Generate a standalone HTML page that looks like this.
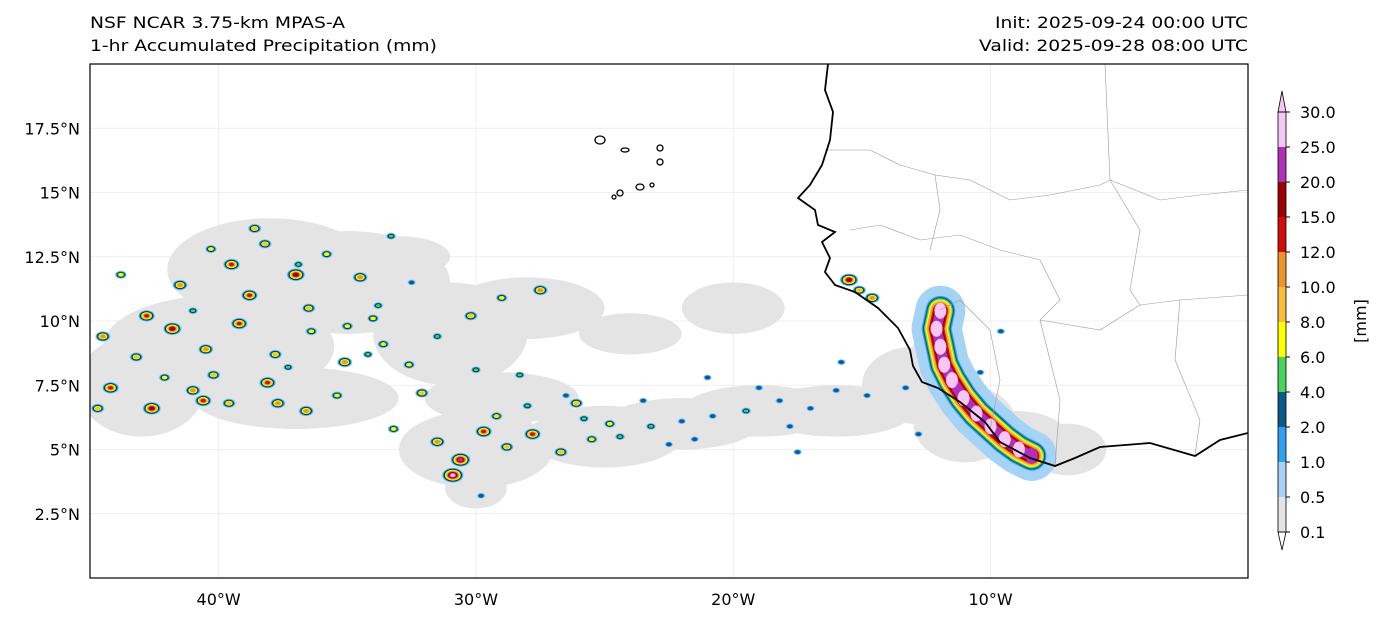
<!DOCTYPE html>
<html><head><meta charset="utf-8">
<style>
body{margin:0;background:#fff;width:1384px;height:623px;overflow:hidden;font-family:"Liberation Sans","DejaVu Sans",sans-serif;}
svg text{font-family:"DejaVu Sans","Liberation Sans",sans-serif;font-size:16px;fill:#000;}
</style></head><body>
<svg id="chart" width="1384" height="623" viewBox="0 0 1384 623" xmlns="http://www.w3.org/2000/svg">
<text x="90" y="28" textLength="255" lengthAdjust="spacingAndGlyphs">NSF NCAR 3.75-km MPAS-A</text>
<text x="90" y="51" textLength="347" lengthAdjust="spacingAndGlyphs">1-hr Accumulated Precipitation (mm)</text>
<text x="995" y="28" textLength="253" lengthAdjust="spacingAndGlyphs">Init: 2025-09-24 00:00 UTC</text>
<text x="979" y="51" textLength="269" lengthAdjust="spacingAndGlyphs">Valid: 2025-09-28 08:00 UTC</text>
<defs><clipPath id="clip"><rect x="90" y="64" width="1158" height="514"/></clipPath></defs>
<g id="map" clip-path="url(#clip)"></g>
<rect x="90" y="64" width="1158" height="514" fill="none" stroke="#000" stroke-width="1.2"/>
<g id="axes"></g>
<g id="cbar"></g>
<text transform="translate(1366,321) rotate(-90)" text-anchor="middle">[mm]</text>
</svg>
<script>
const lonTicks=[-40,-30,-20,-10];
const latTicks=[2.5,5,7.5,10,12.5,15,17.5];
const levels=[0.1,0.5,1,2,4,6,8,10,12,15,20,25,30];
const colors=["#e4e4e4","#a5d3f6","#2f9ff0","#0a5a8a","#4ad35a","#ffff00","#f8bd3a","#ee922c","#d00c0c","#9c0000","#b030b8","#f8c6f6"];
const grayLon=[-38,-35,-40,-43,-31,-28,-25,-22,-19,-16,-13,-11,-9,-7,-37,-30,-33,-29,-24,-20,-12,-30];
const grayLat=[12,11.5,9,7.5,9.5,10.5,5.5,6,6.5,6.5,7.5,6,5.5,5,7,5,12.5,7,9.5,10.5,9,3.5];
const grayRx=[4,4,4.5,2.5,3,3,3,3,3,3,2,2,2,1.5,4,3,2,3,2,2,1,1.2];
const grayRy=[2,2,2,2,2,1.2,1.2,1,1,1,1.5,1.5,1,1,1.2,1.5,0.8,1,0.8,1,1,0.8];
const cellLon=[-39.5,-38.2,-37,-35.8,-34.5,-33.3,-36.5,-38.8,-40.3,-41.5,-35,-33.8,-31.5,-30.2,-29,-27.5,-42.8,-44.5,-43.2,-41.8,-40.5,-39.2,-37.8,-36.4,-35.1,-33.6,-44.2,-42.6,-41,-39.6,-38.1,-36.6,-35.4,-37.3,-40.2,-42.1,-31.5,-30.6,-29.7,-28.8,-27.8,-26.7,-25.5,-24.4,-30.9,-29.2,-32.1,-23.2,-22,-20.8,-19.5,-18.2,-17,-16,-14.8,-25.8,-21.5,-19,-17.8,-15.5,-15.1,-14.6,-32.6,-34.2,-28.3,-26.1,-43.8,-41,-38.6,-36.9,-34,-32.5,-30,-28,-26.5,-24.8,-23.5,-22.5,-21,-17.5,-15.8,-13.3,-12.8,-10.4,-9.6,-44.7,-40.6,-37.7,-33.2,-29.8];
const cellLat=[12.2,13,11.8,12.6,11.7,13.3,10.5,11,12.8,11.4,9.8,10.6,9.4,10.2,10.9,11.2,10.2,9.4,8.6,9.7,8.9,9.9,8.7,9.6,8.4,9.1,7.4,6.6,7.3,6.8,7.6,6.5,7.1,8.2,7.9,7.8,5.3,4.6,5.7,5.1,5.6,4.9,5.4,5.5,4.0,6.3,7.2,5.9,6.1,6.3,6.5,6.9,6.6,7.3,7.1,6.2,5.4,7.4,5.9,11.6,11.2,10.9,8.3,8.7,7.9,6.8,11.8,10.4,13.6,12.2,10.1,11.5,8.1,6.7,7.1,6.0,6.9,5.2,7.8,4.9,8.4,7.4,5.6,8.0,9.6,6.6,6.9,6.8,5.8,3.2];
const cellVal=[12,8,15,6,10,5,8,12,6,10,6,4,5,8,6,10,12,10,8,15,10,12,8,6,10,6,12,15,10,8,12,10,6,5,8,6,10,20,12,8,12,8,6,4,25,6,8,4,3,3,4,2,3,2,3,4,2,3,2,15,8,10,6,5,4,8,6,5,8,4,6,3,5,4,3,6,2,2,3,2,3,2,3,3,2,8,12,10,6,3];
// coastal heavy rain band (lon, lat, value)
const stripLon=[-11.95,-12.1,-11.95,-11.8,-11.5,-11.05,-10.55,-10.0,-9.45,-8.9,-8.4];
const stripLat=[10.4,9.7,9.0,8.3,7.7,7.0,6.4,5.9,5.4,5.0,4.75];
const stripVal=[25,30,30,25,30,30,30,25,30,30,20];
const NS="http://www.w3.org/2000/svg";
function xOf(lon){return 90+(lon+45)*25.73;}
function yOf(lat){return 578-lat*25.7;}
function levelIndex(v){let n=0;while(n<colors.length-1&&levels[n+1]<=v)n++;return n;}
function mk(tag,attrs,parent){const e=document.createElementNS(NS,tag);for(const k in attrs)e.setAttribute(k,attrs[k]);parent.appendChild(e);return e;}
const mapG=document.getElementById('map'),axesG=document.getElementById('axes'),cbG=document.getElementById('cbar');
lonTicks.forEach(l=>{
 const g=mk('line',{x1:xOf(l),x2:xOf(l),y1:64,y2:578,stroke:'#ebebeb','stroke-width':0.8},mapG);
 
 
 const t=mk('text',{x:xOf(l),y:605,'text-anchor':'middle'},axesG);t.textContent=(-l)+'°W';
 
 
});
latTicks.forEach(l=>{
 const g=mk('line',{x1:90,x2:1248,y1:yOf(l),y2:yOf(l),stroke:'#ebebeb','stroke-width':0.8},mapG);
 
 
 const t=mk('text',{x:80,y:yOf(l)+6,'text-anchor':'end'},axesG);t.textContent=l+'°N';
 
 
});
grayLon.forEach((lo,i)=>{
 const e=mk('ellipse',{cx:xOf(lo),cy:yOf(grayLat[i]),rx:grayRx[i]*25.7,ry:grayRy[i]*25.7,fill:colors[0]},mapG);
 
 
});
const stripPts=stripLon.map((lo,i)=>xOf(lo)+','+yOf(stripLat[i])).join(' ');
const halo=mk('polyline',{points:stripPts,fill:'none',stroke:colors[1],'stroke-width':50,'stroke-linecap':'round','stroke-linejoin':'round'},mapG);


const nMinStrip=levelIndex(Math.min(...stripVal));
for(let k=2;k<=nMinStrip;k++){
 const w=(nMinStrip-k+1)*2.4+8;
 const p=mk('polyline',{points:stripPts,fill:'none',stroke:colors[k],'stroke-width':w,'stroke-linecap':'round','stroke-linejoin':'round'},mapG);
 
 
}
stripLon.forEach((lo,i)=>{
 const n=levelIndex(stripVal[i]);
 const e=mk('ellipse',{cx:xOf(lo),cy:yOf(stripLat[i]),rx:6,ry:8,fill:colors[n]},mapG);
 
 
});
cellLon.forEach((lo,i)=>{
 const n=levelIndex(cellVal[i]);
 for(let k=1;k<=n;k++){
  const s=(n-k+1)*0.65+1.3;
  const e=mk('ellipse',{cx:xOf(lo),cy:yOf(cellLat[i]),rx:s*1.3,ry:s*0.9,fill:colors[k],stroke:k==4?'#000':'none','stroke-width':0.5},mapG);
  
  
 }
});
const borders=["M825,150 L870,150 L900,165 L935,175 L970,180 L1010,200 L1050,195 L1100,185 L1110,180 L1105,64","M1110,180 L1160,200 L1200,195 L1248,190","M850,230 L880,225 L920,240 L960,235 L1000,250 L1040,260","M935,175 L940,210 L930,250","M1040,260 L1060,300 L1040,320 L1050,360 L1060,400 L1055,465","M1040,320 L1100,330 L1140,305 L1180,300 L1248,295","M1180,300 L1175,360 L1200,420 L1195,455","M940,310 L960,300 L990,330 L1000,380 L990,430","M1110,180 L1140,230 L1130,290 L1140,305"];
borders.forEach(d=>{const p=mk('path',{d:d,fill:'none',stroke:'#999','stroke-width':0.6},mapG);
 
 });
const coast="M828,64 L825,90 L833,112 L830,140 L822,165 L810,185 L798,198 L815,210 L818,225 L835,232 L822,242 L830,258 L825,272 L835,285 L855,292 L878,308 L898,328 L910,350 L913,366 L922,382 L938,388 L960,402 L985,422 L1000,442 L1030,458 L1055,466 L1075,458 L1100,447 L1150,443 L1195,456 L1220,440 L1248,433";
const cl=mk('path',{d:coast,fill:'none',stroke:'#000','stroke-width':1.8},mapG);


[[600,140,5,4],[625,150,4,2],[660,148,3,3],[660,162,3,3],[620,193,3,3],[640,187,4,3],[652,185,2,2],[614,197,2,2]].forEach(a=>{
 const e=mk('ellipse',{cx:a[0],cy:a[1],rx:a[2],ry:a[3],fill:'none',stroke:'#000','stroke-width':1.3},mapG);
 
 });
const segH=35,cbX=1278,cbW=8,cbBottom=532;
for(let i=0;i<levels.length-1;i++){
 const r=mk('rect',{x:cbX,y:cbBottom-(i+1)*segH,width:cbW,height:segH,fill:colors[i]},cbG);
 
 
}
const cbTop=cbBottom-(levels.length-1)*segH;
mk('polygon',{points:`${cbX},${cbTop} ${cbX+cbW},${cbTop} ${cbX+cbW/2},${cbTop-21}`,fill:colors[11],stroke:'#000','stroke-width':0.8},cbG);
mk('polygon',{points:`${cbX},${cbBottom} ${cbX+cbW},${cbBottom} ${cbX+cbW/2},${cbBottom+18}`,fill:'#ffffff',stroke:'#000','stroke-width':0.8},cbG);
mk('rect',{x:cbX,y:cbTop,width:cbW,height:cbBottom-cbTop,fill:'none',stroke:'#000','stroke-width':0.8},cbG);
levels.forEach((l,i)=>{
 const y=cbBottom-i*segH;
 mk('line',{x1:cbX+cbW,x2:cbX+cbW+4,y1:y,y2:y,stroke:'#000'},cbG);
 const t=mk('text',{x:1300,y:y+6},cbG);t.textContent=l.toFixed(1);
 
 
});
</script>
</body></html>
